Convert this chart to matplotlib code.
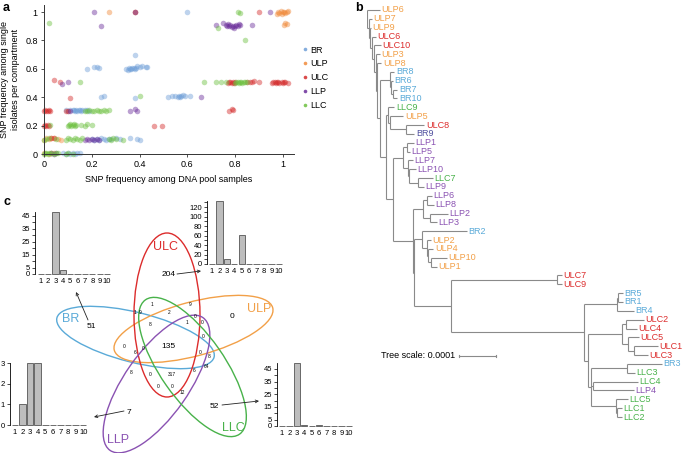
import matplotlib
matplotlib.use("Agg")
import matplotlib.pyplot as plt
from matplotlib.patches import Ellipse

plt.rcParams['font.family'] = ['Liberation Sans', 'DejaVu Sans']

W, H = 683, 453

# ---------------- panel a: SNP frequencies ----------------
groups = ["BR", "ULP", "ULC", "LLP", "LLC"]
group_colors = {"BR": "#6f9fd8", "ULP": "#f08a3a", "ULC": "#d42a2a",
                "LLP": "#6a2d9a", "LLC": "#6cc03e"}

br_x = [0.60, 0.38, 0.18, 0.21, 0.22, 0.23,
        0.345, 0.35, 0.355, 0.36, 0.365, 0.37, 0.375, 0.38, 0.385, 0.39, 0.40, 0.41, 0.425, 0.43,
        0.24, 0.25, 0.38, 0.52, 0.535, 0.55, 0.56, 0.565, 0.57, 0.575, 0.58, 0.59, 0.61,
        0.09, 0.10, 0.11, 0.12, 0.125, 0.13, 0.135, 0.14, 0.145, 0.15, 0.155, 0.16, 0.17, 0.18, 0.19,
        0.20, 0.21, 0.22, 0.23, 0.24, 0.25, 0.26, 0.27, 0.28, 0.30, 0.32, 0.36, 0.39, 0.40,
        0.08, 0.09, 0.10, 0.11, 0.12, 0.13, 0.14, 0.15]
br_y = [1.0, 0.695, 0.60, 0.61, 0.61, 0.605,
        0.600, 0.595, 0.605, 0.600, 0.598, 0.603, 0.607, 0.600, 0.604, 0.62, 0.615, 0.62, 0.615, 0.61,
        0.405, 0.41, 0.395, 0.405, 0.41, 0.408, 0.40, 0.412, 0.405, 0.41, 0.415, 0.408, 0.41,
        0.31, 0.305, 0.31, 0.308, 0.312, 0.305, 0.31, 0.306, 0.313, 0.309, 0.305, 0.31, 0.307, 0.311, 0.305,
        0.105, 0.10, 0.108, 0.102, 0.11, 0.105, 0.10, 0.108, 0.104, 0.11, 0.105, 0.11, 0.105, 0.10,
        0.005, 0.0, 0.008, 0.003, 0.006, 0.0, 0.004, 0.007]

ulp_x = [0.27, 0.38, 0.975, 0.98, 0.985, 0.99, 0.995, 1.0, 1.005, 1.01, 1.015, 1.02,
         1.005, 1.01, 1.015,
         0.0, 0.01, 0.02, 0.03, 0.04, 0.06, 0.07,
         0.0, 0.02, 0.03, 0.04]
ulp_y = [1.0, 1.0, 0.99, 1.0, 0.995, 1.005, 0.99, 1.0, 1.003, 0.995, 1.0, 1.005,
         0.91, 0.92, 0.915,
         0.10, 0.11, 0.105, 0.115, 0.11, 0.105, 0.10,
         0.005, 0.0, 0.008, 0.004]

ulc_x = [0.38, 0.90,
         0.04, 0.065, 0.77, 0.775, 0.78, 0.785, 0.79, 0.795, 0.80,
         0.85, 0.86, 0.87, 0.88, 0.90,
         0.955, 0.96, 0.965, 0.97, 0.975, 0.98, 0.985, 0.995, 1.0, 1.005, 1.01, 1.02,
         0.11,
         0.0, 0.005, 0.01, 0.015, 0.02, 0.025, 0.09, 0.10, 0.775, 0.79, 0.785,
         0.0, 0.005, 0.01, 0.015, 0.02, 0.46, 0.495,
         0.03, 0.04]
ulc_y = [1.0, 1.0,
         0.52, 0.51, 0.50, 0.505, 0.51, 0.50, 0.508, 0.503, 0.51,
         0.51, 0.505, 0.51, 0.512, 0.505,
         0.50, 0.505, 0.51, 0.50, 0.505, 0.51, 0.50, 0.505, 0.50, 0.51, 0.505, 0.50,
         0.395,
         0.30, 0.31, 0.305, 0.30, 0.31, 0.305, 0.30, 0.305, 0.30, 0.31, 0.32,
         0.20, 0.205, 0.20, 0.205, 0.20, 0.20, 0.195,
         0.115, 0.11]

llp_x = [0.21, 0.38, 0.945,
         0.24, 0.72, 0.75, 0.76, 0.765, 0.77, 0.775, 0.78, 0.785, 0.79, 0.795, 0.80, 0.805, 0.81, 0.815, 0.82, 0.87,
         0.076, 0.10, 0.655,
         0.36, 0.38, 0.39, 0.11,
         0.17, 0.18, 0.19, 0.20, 0.21, 0.22, 0.23,
         0.03, 0.04, 0.05]
llp_y = [1.0, 1.0, 1.0,
         0.90, 0.91, 0.92, 0.91, 0.905, 0.915, 0.90, 0.91, 0.895, 0.905, 0.89, 0.90, 0.91, 0.905, 0.915, 0.91, 0.91,
         0.495, 0.51, 0.40,
         0.30, 0.32, 0.305, 0.30,
         0.10, 0.105, 0.10, 0.108, 0.102, 0.105, 0.10,
         0.005, 0.0, 0.006]

llc_x = [0.81, 0.82, 0.02, 0.73, 0.84,
         0.15, 0.67, 0.72, 0.74, 0.76, 0.80, 0.805, 0.81, 0.815, 0.82, 0.825, 0.83, 0.835, 0.84, 0.85,
         0.40,
         0.17, 0.18, 0.19, 0.20, 0.21, 0.22, 0.23, 0.24, 0.25, 0.26, 0.27,
         0.025, 0.10, 0.105, 0.11, 0.115, 0.12, 0.125, 0.13, 0.135, 0.155, 0.17, 0.18, 0.20,
         0.0, 0.01, 0.02, 0.05, 0.09, 0.10, 0.11, 0.12, 0.13, 0.14, 0.15, 0.16, 0.27, 0.28, 0.29, 0.30, 0.33,
         0.0, 0.005, 0.01, 0.015, 0.02, 0.03, 0.04, 0.05, 0.06, 0.09, 0.10, 0.12]
llc_y = [1.0, 0.995, 0.92, 0.885, 0.80,
         0.505, 0.51, 0.505, 0.505, 0.51, 0.50, 0.505, 0.51, 0.50, 0.505, 0.51, 0.50, 0.505, 0.51, 0.505,
         0.41,
         0.30, 0.305, 0.31, 0.30, 0.305, 0.31, 0.30, 0.305, 0.31, 0.305, 0.31,
         0.205, 0.20, 0.205, 0.21, 0.20, 0.205, 0.21, 0.20, 0.205, 0.205, 0.20, 0.21, 0.205,
         0.10, 0.105, 0.11, 0.105, 0.10, 0.11, 0.105, 0.10, 0.11, 0.105, 0.10, 0.11, 0.105, 0.10, 0.11, 0.105, 0.10,
         0.0, 0.005, 0.01, 0.0, 0.008, 0.004, 0.0, 0.006, 0.01, 0.003, 0.007, 0.0]

scatter_data = {"BR": (br_x, br_y), "ULP": (ulp_x, ulp_y), "ULC": (ulc_x, ulc_y),
                "LLP": (llp_x, llp_y), "LLC": (llc_x, llc_y)}

# ---------------- panel b: tree (branch lengths in 1e-6 subst/site) ----------------
br_clade = "(BR8:11,(BR6:3,(BR7:11,BR10:11):5):3)"
llc9_clade = "(LLC9:16,(ULP5:35,(ULC8:49,BR9:22):43):5)"
llp_a = "((LLP1:19,LLP5:8):11,(LLP7:14,(LLP10:19,(LLC7:41,LLP9:16):24):3):14)"
llp_b = "((LLP6:14,LLP8:19):11,(LLP2:49,LLP3:19):19)"
ulp_clade = "(BR2:122,(ULP2:11,(ULP4:14,(ULP10:43,ULP1:16):8):3):14)"
ulc79 = "(ULC7:14,ULC9:14)"
br5_clade = "((BR5:11,BR1:11):5,BR4:46)"
ulc_clade = "((ULC2:49,ULC4:30):11,(ULC5:30,(ULC1:66,ULC3:38):16):16)"
llc_clade = "((BR3:95,LLC3:22):97,(LLC4:122,LLP4:111):5,(LLC5:32,(LLC1:14,LLC2:14):3):68)"
low = f"({br5_clade}:89,({ulc_clade}:92,{llc_clade}:8):11)"
deep = f"({ulp_clade}:22,({ulc79}:286,{low}:359):100)"
mid = f"({llc9_clade}:8,({llp_a}:27,({llp_b}:27,{deep}:3):54):19)"
core = f"({br_clade}:27,{mid}:14)"
newick = ("(ULP6:35,(ULP7:8,(ULP9:3,(ULC6:11,(ULC10:19,(ULP3:11,(ULP8:11,"
          + core + ":8):5):5):5):5):3):5);")

tree_colors = {"BR": "#5aaad8", "ULP": "#f2a048", "ULC": "#dc2c2c",
               "LLP": "#8a52b2", "LLC": "#48b24a"}

# ---------------- panel c: Venn counts + histograms ----------------
hist_bins = list(range(1, 11))
hist_br = [0, 0, 48, 3, 0, 0, 0, 0, 0, 0]
hist_ulc = [0, 132, 10, 0, 62, 0, 0, 0, 0, 0]
hist_llp = [0, 1, 3, 3, 0, 0, 0, 0, 0, 0]
hist_llc = [0, 0, 50, 1, 0, 1, 0, 0, 0, 0]

venn_main = ["51", "204", "0", "7", "52", "135"]
venn_small = ["1", "2", "9", "1", "9", "8", "1", "0", "6", "0", "8", "0", "317",
              "6", "0", "0", "12", "0", "0", "0", "0", "8", "64"]


def parse_newick(s):
    pos = 0

    def node():
        nonlocal pos
        n = {"name": "", "len": 0.0, "children": []}
        if s[pos] == "(":
            pos += 1
            while True:
                n["children"].append(node())
                if s[pos] == ",":
                    pos += 1
                    continue
                pos += 1  # ')'
                break
        start = pos
        while s[pos] not in ":,();":
            pos += 1
        n["name"] = s[start:pos]
        if s[pos] == ":":
            pos += 1
            start = pos
            while s[pos] not in ",();":
                pos += 1
            n["len"] = float(s[start:pos])
        return n

    return node()


fig = plt.figure(figsize=(W / 100, H / 100), dpi=100)


def px_axes(l, t, r, b):
    return fig.add_axes([l / W, 1 - b / H, (r - l) / W, (b - t) / H])


# ---- panel a ----
ax = px_axes(44, 5, 294, 154)
for g in groups:
    xs, ys = scatter_data[g]
    ax.scatter(xs, ys, s=16, color=group_colors[g], alpha=0.45, linewidths=0,
               clip_on=False, label=g)
ax.set_xlim(0, 1.046)
ax.set_ylim(0, 1.05)
ax.set_xticks([0, 0.2, 0.4, 0.6, 0.8, 1])
ax.set_xticklabels(["0", "0.2", "0.4", "0.6", "0.8", "1"])
ax.set_yticks([0, 0.2, 0.4, 0.6, 0.8, 1])
ax.set_yticklabels(["0", "0.2", "0.4", "0.6", "0.8", "1"])
ax.tick_params(labelsize=6.5, length=2.5, width=0.6, pad=2, color="#333333")
for sp in ["top", "right"]:
    ax.spines[sp].set_visible(False)
for sp in ["left", "bottom"]:
    ax.spines[sp].set_linewidth(0.7)
    ax.spines[sp].set_color("#333333")
ax.set_xlabel("SNP frequency among DNA pool samples", fontsize=6.5, labelpad=4)
ax.set_ylabel("SNP frequency among single\nisolates per compartment", fontsize=6.5,
              labelpad=4)
handles = [plt.Line2D([], [], ls="", marker="o", ms=2.6, color=group_colors[g],
                      alpha=0.85, mew=0) for g in groups]
fig.legend(handles, groups, loc="upper left", bbox_to_anchor=(296 / W, 1 - 41 / H),
           frameon=False, fontsize=6.5, handletextpad=0.1, labelspacing=0.55,
           handlelength=1.0, borderpad=0)

# ---- panel b ----
tree = parse_newick(newick)
tx = px_axes(367, 0, 683, 453)
unit_px = 2.7
leaf_px = 8.848
tx.set_xlim(0, 316 * unit_px)
tx.set_ylim((453 - 10) / leaf_px, -10 / leaf_px)
tx.axis("off")

leaves = []


def layout(n, x0):
    n["x"] = x0 + n["len"]
    if not n["children"]:
        n["y"] = len(leaves)
        leaves.append(n)
    else:
        for c in n["children"]:
            layout(c, n["x"])
        n["y"] = (n["children"][0]["y"] + n["children"][-1]["y"]) / 2


def draw(n, px):
    tx.plot([px, n["x"]], [n["y"], n["y"]], color="#8a8a8a", lw=0.8,
            solid_capstyle="butt")
    if n["children"]:
        tx.plot([n["x"], n["x"]], [n["children"][0]["y"], n["children"][-1]["y"]],
                color="#8a8a8a", lw=0.8, solid_capstyle="butt")
        for c in n["children"]:
            draw(c, n["x"])
    else:
        prefix = n["name"].rstrip("0123456789")
        col = "#4f4f9e" if n["name"] == "BR9" else tree_colors[prefix]
        tx.text(n["x"] + 4, n["y"], n["name"], color=col, fontsize=6.5,
                va="center", ha="left", clip_on=False)


layout(tree, 0)
draw(tree, 0)
scale_y = (356 - 10) / leaf_px
tx.plot([248, 348], [scale_y, scale_y], color="#8a8a8a", lw=0.8)
tx.plot([248, 248], [scale_y - 0.12, scale_y + 0.12], color="#8a8a8a", lw=0.8)
tx.plot([348, 348], [scale_y - 0.12, scale_y + 0.12], color="#8a8a8a", lw=0.8)
tx.text(238, scale_y, "Tree scale: 0.0001", fontsize=6.5, ha="right", va="center")

# ---- panel c: Venn ----
vx = px_axes(0, 0, 683, 453)
vx.set_xlim(0, W)
vx.set_ylim(H, 0)
vx.axis("off")
vx.patch.set_alpha(0)

ellipses = [  # name, center, major, minor, angle
    ("BR", (135.5, 337.5), 162, 50, 14),
    ("ULP", (193.5, 329), 164, 54, -15),
    ("ULC", (167, 315), 164, 66, 90),
    ("LLP", (156.5, 384), 162, 64, -55),
    ("LLC", (192.5, 367), 164, 64, 55),
]
for name, c, a, b, ang in ellipses:
    vx.add_patch(Ellipse(c, a, b, angle=ang, fill=False, lw=1.0,
                         edgecolor=tree_colors[name]))

name_pos = {"BR": (71, 319), "ULP": (259, 309), "ULC": (166, 247),
            "LLP": (118, 440), "LLC": (233, 428)}
for name, (x, y) in name_pos.items():
    vx.text(x, y, name, color=tree_colors[name], fontsize=9, ha="center", va="center")

main_pos = [(91, 326), (169, 275), (232, 317), (129, 412), (214, 406), (168, 346)]
for t, (x, y) in zip(venn_main, main_pos):
    vx.text(x, y, t, fontsize=6, ha="center", va="center")

small_pos = [(152, 304), (169, 312), (190, 304), (135, 313), (140, 313), (150, 324),
             (187, 323), (124, 347), (135, 352), (143, 348), (131, 372), (150, 374),
             (172, 374), (194, 371), (158, 386), (172, 386), (182, 392), (195, 317),
             (202, 322), (203, 336), (200, 352), (209, 357), (207, 367)]
for t, (x, y) in zip(venn_small, small_pos):
    vx.text(x, y, t, fontsize=3.5, ha="center", va="center")

arrows = [((88, 320), (76, 292)), ((177, 274), (201, 271)),
          ((124, 411), (94, 417)), ((222, 405), (259, 401))]
for (x0, y0), (x1, y1) in arrows:
    vx.annotate("", xy=(x1, y1), xytext=(x0, y0),
                arrowprops=dict(arrowstyle="->", lw=0.6, color="#222222",
                                shrinkA=0, shrinkB=0, mutation_scale=5))


def hist_inset(box, counts, xlo, ytop, ticks, labeled):
    hx = px_axes(*box)
    hx.bar(hist_bins, counts, width=0.85, color="#bdbdbd", edgecolor="#555555",
           lw=0.6, clip_on=False)
    hx.set_xlim(xlo, 10.5)
    hx.set_ylim(0, ytop)
    hx.set_xticks(hist_bins)
    hx.set_xticklabels([str(b) for b in hist_bins])
    hx.set_yticks(ticks)
    hx.set_yticklabels([str(t) if t in labeled else "" for t in ticks])
    hx.tick_params(axis="x", length=0, labelsize=5.5, pad=3)
    hx.tick_params(axis="y", length=2, width=0.5, labelsize=5.5, pad=1.5)
    for sp in ["top", "right", "bottom"]:
        hx.spines[sp].set_visible(False)
    hx.spines["left"].set_linewidth(0.6)
    hx.patch.set_alpha(0)
    return hx


hist_inset((35.2, 212, 110.7, 274), hist_br, 0.25, 48,
           list(range(0, 50, 5)), [0, 5, 15, 25, 35, 45])
hist_inset((206.8, 201.3, 282.7, 264), hist_ulc, 0.3, 132,
           list(range(0, 131, 10)), list(range(0, 121, 20)))
hist_inset((10, 363, 87, 425), hist_llp, 0.35, 3, [0, 1, 2, 3], [0, 1, 2, 3])
hist_inset((277, 362.5, 352.7, 426), hist_llc, 0.33, 50,
           list(range(0, 50, 5)), [0, 5, 15, 25, 35, 45])

# panel letters
fig.text(3 / W, 1 - 8 / H, "a", fontsize=9, fontweight="bold", va="center")
fig.text(355 / W, 1 - 8 / H, "b", fontsize=9, fontweight="bold", va="center")
fig.text(3 / W, 1 - 202 / H, "c", fontsize=9, fontweight="bold", va="center")

fig.savefig("out.png", dpi=100)
